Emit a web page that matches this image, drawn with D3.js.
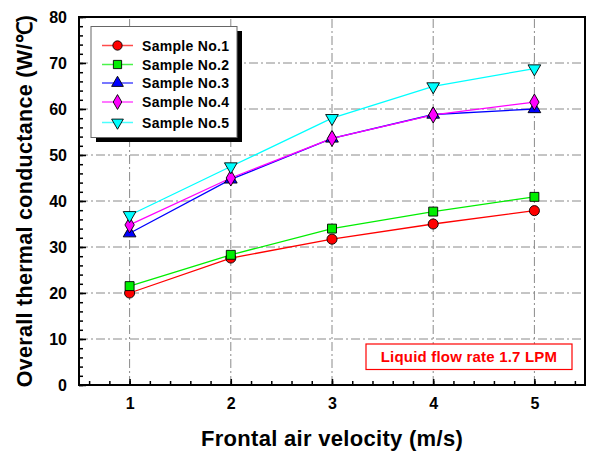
<!DOCTYPE html>
<html>
<head>
<meta charset="utf-8">
<script src="https://cdn.jsdelivr.net/npm/d3@7"></script>
<style>
  html, body { margin: 0; padding: 0; background: #fff; }
  svg { display: block; font-family: "Liberation Sans", Arial, sans-serif; font-weight: bold; }
</style>
</head>
<body>
<svg id="chart" width="589" height="453"></svg>
<script>
// ---- data ----
var velocities = [1, 2, 3, 4, 5];
var sampleNames = ['Sample No.1', 'Sample No.2', 'Sample No.3', 'Sample No.4', 'Sample No.5'];
var sample1 = [20.0, 27.6, 31.7, 35.0, 37.9];
var sample2 = [21.5, 28.3, 34.0, 37.7, 40.9];
var sample3 = [33.0, 44.7, 53.6, 58.8, 60.0];
var sample4 = [34.8, 45.0, 53.6, 58.7, 61.5];
var sample5 = [36.9, 47.5, 58.0, 64.9, 68.8];
var yTicks = [0, 10, 20, 30, 40, 50, 60, 70, 80];
var xTicks = [1, 2, 3, 4, 5];

var seriesValues = [sample1, sample2, sample3, sample4, sample5];
var seriesColors = ['#ff0000', '#00ee00', '#0000ff', '#ff00ff', '#00ffff'];
var seriesShapes = ['circle', 'square', 'triangle', 'diamond', 'triangleDown'];

var svg = d3.select('#chart');
var margin = { left: 79, right: 4, top: 17, bottom: 68 };
var W = 589, H = 453;
var FONT = '"Liberation Sans", Arial, sans-serif';

var x = d3.scaleLinear().domain([0.5, 5.5]).range([margin.left, W - margin.right]);
var y = d3.scaleLinear().domain([0, 80]).range([H - margin.bottom, margin.top]);

// grid (dash-dot)
var grid = svg.append('g').attr('stroke', '#8a8a8a').attr('stroke-width', 1)
  .attr('stroke-dasharray', '9,3,2,3');
grid.selectAll('line.gy').data(yTicks.filter(function(d) { return d > 0 && d < 80; })).join('line')
  .attr('class', 'gy')
  .attr('x1', x(0.5)).attr('x2', x(5.5))
  .attr('y1', function(d) { return y(d); }).attr('y2', function(d) { return y(d); });
grid.selectAll('line.gx').data(xTicks).join('line')
  .attr('class', 'gx')
  .attr('y1', y(0)).attr('y2', y(80))
  .attr('x1', function(d) { return x(d); }).attr('x2', function(d) { return x(d); });

// axes with inward ticks
var yMinor = d3.range(0, 81, 2);
var xMinor = d3.range(0.6, 5.41, 0.2);

function styleLabels(g) {
  g.select('.domain').remove();
  g.selectAll('line').attr('stroke-width', 1.5);
  g.selectAll('text').attr('font-size', 16).attr('font-family', FONT)
    .attr('font-weight', 'bold').attr('fill', '#000');
}

var axisG = svg.append('g');
axisG.append('g').attr('transform', 'translate(' + x(0.5) + ',0)')
  .call(d3.axisLeft(y).tickValues(yMinor).tickSize(-4).tickFormat(''))
  .call(styleLabels);
axisG.append('g').attr('transform', 'translate(' + x(0.5) + ',0)')
  .call(d3.axisLeft(y).tickValues(yTicks).tickSize(-7).tickPadding(12))
  .call(styleLabels);

axisG.append('g').attr('transform', 'translate(0,' + y(0) + ')')
  .call(d3.axisBottom(x).tickValues(xMinor).tickSize(-4).tickFormat(''))
  .call(styleLabels);
axisG.append('g').attr('transform', 'translate(0,' + y(0) + ')')
  .call(d3.axisBottom(x).tickValues(xTicks).tickSize(-6).tickPadding(13).tickFormat(d3.format('d')))
  .call(styleLabels);

// frame
svg.append('rect')
  .attr('x', x(0.5)).attr('y', y(80))
  .attr('width', x(5.5) - x(0.5)).attr('height', y(0) - y(80))
  .attr('fill', 'none').attr('stroke', '#000').attr('stroke-width', 2);

// series
function markerPath(shape, size) {
  var map = {
    circle: d3.symbolCircle, square: d3.symbolSquare, triangle: d3.symbolTriangle,
    diamond: d3.symbolDiamond, triangleDown: d3.symbolTriangle
  };
  return d3.symbol().type(map[shape]).size(size)();
}
var markerSizes = { circle: 80, square: 80, triangle: 70, diamond: 75, triangleDown: 70 };

var line = d3.line()
  .x(function(d, i) { return x(velocities[i]); })
  .y(function(d) { return y(d); });

seriesValues.forEach(function(vals, k) {
  svg.append('path').datum(vals)
    .attr('d', line).attr('fill', 'none')
    .attr('stroke', seriesColors[k]).attr('stroke-width', 1.3);
});
seriesValues.forEach(function(vals, k) {
  var shape = seriesShapes[k];
  svg.append('g').selectAll('path').data(vals).join('path')
    .attr('transform', function(d, i) {
      var t = 'translate(' + x(velocities[i]) + ',' + y(d) + ')';
      return shape === 'triangleDown' ? t + ' rotate(180)' : t;
    })
    .attr('d', markerPath(shape, markerSizes[shape]))
    .attr('fill', seriesColors[k]).attr('stroke', '#000').attr('stroke-width', 0.9);
});

// legend
var lg = svg.append('g');
lg.append('rect').attr('x', 96).attr('y', 31).attr('width', 146).attr('height', 111).attr('fill', '#000');
lg.append('rect').attr('x', 91).attr('y', 26.5).attr('width', 146).attr('height', 111)
  .attr('fill', '#fff').attr('stroke', '#666').attr('stroke-width', 1);
var rowY = [45.5, 64.5, 83, 102, 122.5];
sampleNames.forEach(function(name, k) {
  var shape = seriesShapes[k];
  lg.append('line').attr('x1', 102).attr('x2', 133).attr('y1', rowY[k]).attr('y2', rowY[k])
    .attr('stroke', seriesColors[k]).attr('stroke-width', 1.5).attr('opacity', 0.7);
  lg.append('path')
    .attr('transform', 'translate(117.5,' + rowY[k] + ')' + (shape === 'triangleDown' ? ' rotate(180)' : ''))
    .attr('d', markerPath(shape, markerSizes[shape] * 0.85))
    .attr('fill', seriesColors[k]).attr('stroke', '#000').attr('stroke-width', 0.9);
  lg.append('text').attr('x', 142).attr('y', rowY[k] + 5)
    .attr('font-size', 14).attr('letter-spacing', 0.3).text(name);
});

// annotation
var ann = svg.append('g');
ann.append('rect').attr('x', 366).attr('y', 344).attr('width', 206).attr('height', 25.5)
  .attr('fill', '#fff').attr('stroke', '#ff0000').attr('stroke-width', 1.2);
ann.append('text').attr('x', 469).attr('y', 362).attr('text-anchor', 'middle')
  .attr('fill', '#ff0000').attr('font-size', 15).attr('letter-spacing', 0.2).text('Liquid flow rate 1.7 LPM');

// axis titles
svg.append('text').attr('x', (x(0.5) + x(5.5)) / 2).attr('y', 446).attr('text-anchor', 'middle')
  .attr('font-size', 22).attr('letter-spacing', 0.3).text('Frontal air velocity (m/s)');
svg.append('text')
  .attr('transform', 'translate(32,' + ((y(0) + y(80)) / 2) + ') rotate(-90)')
  .attr('text-anchor', 'middle').attr('font-size', 21.5).attr('letter-spacing', 0.3)
  .text('Overall thermal conductance (W/\u2103)');
</script>
</body>
</html>
